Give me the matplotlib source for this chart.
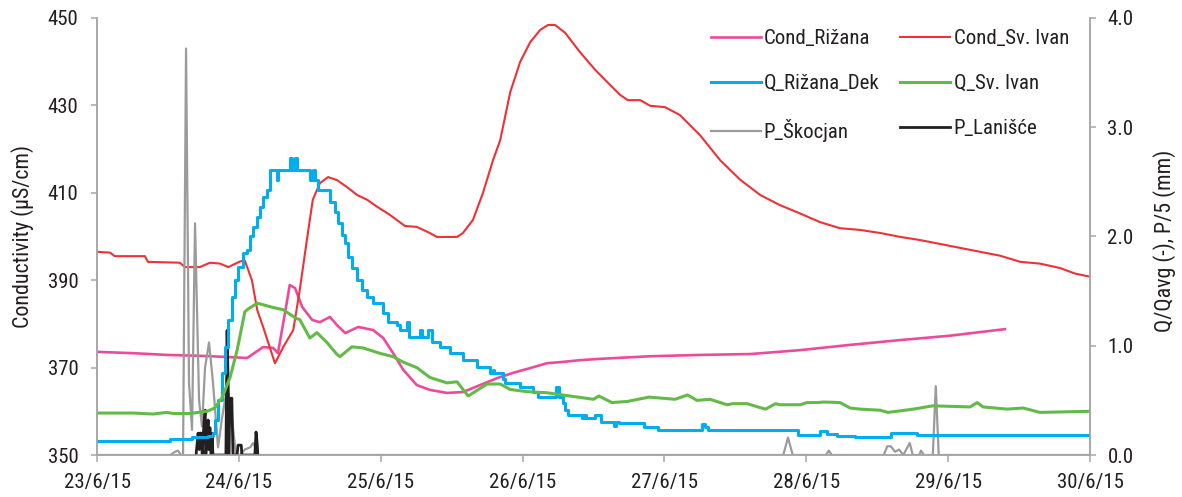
import matplotlib
matplotlib.use("Agg")
import matplotlib.pyplot as plt
from matplotlib import font_manager
from matplotlib.ticker import FixedLocator, FormatStrFormatter

# prefer a narrow sans face; otherwise shrink the regular one a little
_installed = {f.name for f in font_manager.fontManager.ttflist}
_narrow = [n for n in ("Liberation Sans Narrow", "Arial Narrow", "Roboto Condensed",
                       "Open Sans Condensed") if n in _installed]
if _narrow:
    plt.rcParams['font.family'] = [_narrow[0], 'Liberation Sans', 'DejaVu Sans']
    FS = 15
else:
    plt.rcParams['font.family'] = ['Liberation Sans', 'DejaVu Sans']
    FS = 13.2

# time axis: hours since 23/6/15 00:00
date_labels = ["23/6/15", "24/6/15", "25/6/15", "26/6/15", "27/6/15", "28/6/15", "29/6/15", "30/6/15"]

# Conductivity, Sv. Ivan spring (µS/cm)
t_cond_sv = [0, 2.2, 3.0, 8.1, 8.6, 14.0, 14.9, 17.4, 19.1, 20.8, 22.2, 24.2, 25.0, 26.2, 27.1, 28.1,
             30.1, 31.5, 33.2, 34.3, 35.5, 36.5, 37.7, 39.1, 40.6, 42.3, 44.0, 45.7, 47.4, 49.6, 52.1,
             54.1, 56.3, 57.5, 60.9, 61.9, 63.6, 65.3, 67.0, 68.2, 69.9, 71.6, 73.3, 75.0, 76.3, 77.5,
             79.2, 81.7, 84.3, 86.8, 88.5, 89.8, 91.9, 93.6, 96.1, 98.6, 102.0, 105.4, 108.8, 112.2,
             115.5, 118.9, 122.3, 125.7, 129.1, 132.5, 135.9, 139.2, 142.6, 146.0, 149.4, 152.8,
             156.2, 159.5, 162.9, 165.5, 168.0]
cond_sv = [396.5, 396.3, 395.5, 395.5, 394.2, 394.0, 393.0, 393.0, 394.0, 393.8, 393.0, 394.3, 394.5,
           390.0, 383.2, 379.3, 371.0, 374.7, 378.6, 387.8, 399.2, 408.4, 412.2, 413.6, 412.9, 411.3,
           409.5, 408.4, 406.8, 404.9, 402.4, 402.2, 400.8, 399.9, 399.9, 400.8, 403.8, 410.0, 417.5,
           422.0, 433.0, 440.0, 444.5, 447.3, 448.4, 448.4, 446.6, 442.2, 438.1, 434.7, 432.4, 431.2,
           431.2, 429.9, 429.6, 427.8, 423.2, 417.5, 413.0, 409.5, 407.2, 405.3, 403.3, 401.9, 401.5,
           400.8, 399.9, 399.2, 398.3, 397.4, 396.5, 395.6, 394.2, 393.8, 392.8, 391.5, 390.8]

# Conductivity, Rižana spring (µS/cm)
t_cond_riz = [0, 6.1, 11.8, 17.4, 22.5, 25.4, 28.1, 29.8, 30.6, 31.8, 32.6, 33.5, 34.7, 36.4, 37.7,
              39.4, 40.6, 42.0, 44.2, 46.7, 48.4, 50.1, 51.8, 54.1, 56.3, 59.2, 61.9, 64.8, 67.7, 70.4,
              73.3, 76.1, 78.8, 81.7, 85.1, 93.6, 102.0, 110.5, 119.0, 127.4, 135.9, 144.3, 153.6]
cond_riz = [373.6, 373.3, 372.9, 372.7, 372.4, 372.2, 374.7, 374.5, 373.3, 382.5, 388.9, 388.2, 383.9,
            380.9, 380.4, 381.6, 379.7, 377.9, 379.3, 378.6, 376.8, 373.3, 369.5, 366.0, 364.9, 364.2,
            364.4, 366.0, 367.6, 368.8, 369.9, 371.0, 371.3, 371.7, 372.0, 372.6, 372.9, 373.1, 374.0,
            375.2, 376.3, 377.3, 378.8]

# Normalised discharge, Rižana (Q/Qavg)
t_q_riz = [0, 9.0, 12.0, 12.35, 15.4, 16.1, 18.8, 19.6, 20.0, 20.5, 21.2, 21.7, 22.2, 22.8, 23.4, 23.9,
           24.7, 25.4, 25.9, 26.4, 27.1, 27.6, 28.1, 28.8, 29.3, 30.4, 30.6, 32.3, 32.6, 32.95, 33.5,
           33.8, 36.0, 36.5, 36.9, 37.4, 38.9, 39.4, 40.3, 40.8, 41.5, 42.0, 42.5, 43.1, 44.0, 44.8,
           45.7, 46.7, 48.4, 49.2, 50.8, 51.3, 52.5, 52.8, 54.6, 54.9, 56.0, 56.7, 58.0, 59.7, 61.9,
           64.3, 66.5, 67.0, 67.2, 68.7, 69.0, 71.6, 73.8, 74.6, 77.6, 78.1, 78.8, 79.2, 79.7, 80.2,
           82.1, 82.4, 82.7, 83.1, 84.3, 85.3, 87.5, 87.8, 88.3, 92.5, 94.9, 102.3, 102.8, 103.4,
           112.3, 118.6, 122.3, 123.5, 125.2, 128.3, 134.3, 135.5, 138.7, 168.0]
q_riz = [0.128, 0.128, 0.128, 0.146, 0.146, 0.165, 0.174, 0.20, 0.32, 0.50, 0.75, 0.99, 1.24, 1.45,
         1.60, 1.72, 1.85, 1.88, 2.00, 2.09, 2.18, 2.27, 2.36, 2.43, 2.61, 2.52, 2.61, 2.61, 2.72, 2.61,
         2.72, 2.61, 2.52, 2.61, 2.52, 2.43, 2.43, 2.32, 2.22, 2.12, 2.01, 1.94, 1.81, 1.71, 1.60, 1.51,
         1.45, 1.39, 1.30, 1.22, 1.19, 1.14, 1.22, 1.08, 1.14, 1.08, 1.14, 1.03, 0.99, 0.93, 0.87, 0.81,
         0.75, 0.78, 0.75, 0.70, 0.66, 0.62, 0.58, 0.53, 0.62, 0.53, 0.48, 0.41, 0.37, 0.37, 0.34, 0.37,
         0.34, 0.34, 0.37, 0.30, 0.27, 0.30, 0.29, 0.26, 0.23, 0.28, 0.26, 0.23, 0.23, 0.18, 0.22, 0.19,
         0.174, 0.165, 0.20, 0.20, 0.183, 0.165]

# Normalised discharge, Sv. Ivan (Q/Qavg)
t_q_sv = [0, 6.1, 9.5, 11.8, 12.9, 15.7, 18.6, 19.9, 21.2, 22.5, 23.7, 25.0, 25.4, 27.1, 29.8, 31.5,
          33.7, 34.3, 36.0, 37.2, 38.9, 40.6, 41.1, 43.1, 45.0, 47.9, 50.1, 51.8, 54.1, 56.3, 59.2,
          60.9, 62.8, 66.0, 68.2, 69.9, 72.7, 76.1, 80.0, 84.0, 84.9, 87.1, 89.7, 93.4, 97.8, 99.9,
          101.5, 103.7, 106.6, 107.6, 110.0, 111.8, 113.1, 114.8, 115.5, 119.0, 120.1, 122.0, 122.9,
          125.7, 127.4, 129.1, 132.5, 133.8, 135.3, 138.1, 141.4, 147.7, 148.9, 149.9, 154.0, 156.7,
          159.5, 168.0]
q_sv = [0.384, 0.384, 0.375, 0.39, 0.38, 0.38, 0.40, 0.43, 0.53, 0.71, 0.96, 1.31, 1.33, 1.39, 1.35,
        1.33, 1.25, 1.24, 1.07, 1.12, 1.03, 0.92, 0.90, 0.99, 0.98, 0.93, 0.90, 0.85, 0.80, 0.71, 0.66,
        0.67, 0.54, 0.65, 0.65, 0.60, 0.58, 0.57, 0.54, 0.51, 0.54, 0.48, 0.49, 0.53, 0.51, 0.55, 0.50,
        0.51, 0.46, 0.47, 0.47, 0.44, 0.42, 0.47, 0.46, 0.46, 0.48, 0.48, 0.485, 0.48, 0.43, 0.42, 0.41,
        0.39, 0.40, 0.42, 0.45, 0.44, 0.48, 0.44, 0.42, 0.43, 0.39, 0.40]

# Precipitation / 5, Škocjan (mm)
t_p_sko = [0, 12.4, 13.2, 13.7, 14.2, 14.55, 15.06, 15.56, 16.07, 16.58, 17.26, 17.76, 18.27, 18.95,
           19.62, 20.47, 21.15, 22.0, 22.5, 23.5, 24.2, 25.0, 25.9, 26.4, 26.9, 27.2, 116.1, 116.9,
           117.7, 123.3, 123.8, 124.3, 133.1, 133.7, 134.3, 135.0, 135.7, 136.4, 137.5, 138.0, 139.1,
           139.4, 139.9, 141.4, 141.9, 142.4, 168.0]
p_sko = [0, 0, 0.03, 0.04, 0, 0, 3.72, 0.66, 0.23, 2.12, 0.50, 0.26, 0.80, 1.03, 0.66, 0.07, 0.34,
         0.62, 0.50, 0, 0, 0.05, 0.07, 0.11, 0.06, 0, 0, 0.16, 0, 0, 0.04, 0, 0, 0.08, 0.08, 0.03, 0.05,
         0, 0.11, 0, 0, 0.04, 0, 0, 0.63, 0, 0]

# Precipitation / 5, Lanišće (mm)
t_p_lan = [16.75, 17.1, 17.3, 17.4, 17.6, 17.8, 17.9, 18.1, 18.3, 18.4, 18.6, 18.8, 18.9, 19.1, 19.3,
           19.5, 19.6, 21.8, 22.0, 22.2, 22.3, 22.5, 22.7, 22.8, 23.0, 23.7, 23.85, 24.4, 24.5, 26.7,
           26.9, 27.1, 27.2]
p_lan = [0, 0.20, 0.05, 0.20, 0.20, 0, 0.10, 0.30, 0.41, 0, 0.15, 0.32, 0.05, 0.25, 0, 0.20, 0, 0,
         1.14, 0.60, 0, 0.52, 0.45, 0.52, 0, 0, 0.09, 0.09, 0, 0, 0.21, 0.10, 0]

c_pink = "#ec4b9c"
c_red = "#ee3137"
c_blue = "#00aeef"
c_green = "#63bb47"
c_gray = "#9b9b9b"
c_black = "#231f20"
c_axis = "#a6a6a6"
c_text = "#231f20"

fig = plt.figure(figsize=(11.82, 4.97), dpi=100)
ax = fig.add_axes([0.0821, 0.0845, 0.8401, 0.8793])
ax2 = ax.twinx()

# conductivity on the left axis
l_pink, = ax.plot(t_cond_riz, cond_riz, color=c_pink, lw=1.9, label="Cond_Rižana")
l_red, = ax.plot(t_cond_sv, cond_sv, color=c_red, lw=1.5, label="Cond_Sv. Ivan")

# discharge and precipitation on the right axis
l_gray, = ax2.plot(t_p_sko, p_sko, color=c_gray, lw=1.6, label="P_Škocjan")
l_black, = ax2.plot(t_p_lan, p_lan, color=c_black, lw=2.0, label="P_Lanišće")
l_blue, = ax2.plot(t_q_riz, q_riz, color=c_blue, lw=2.2, drawstyle="steps-post", label="Q_Rižana_Dek")
l_green, = ax2.plot(t_q_sv, q_sv, color=c_green, lw=2.2, label="Q_Sv. Ivan")

ax.set_xlim(0, 168)
ax.set_ylim(350, 450)
ax2.set_ylim(0, 4.0)
ax.xaxis.set_major_locator(FixedLocator([24 * i for i in range(len(date_labels))]))
ax.set_xticklabels(date_labels)
ax.set_yticks([350, 370, 390, 410, 430, 450])
ax2.set_yticks([0, 1, 2, 3, 4])
ax2.yaxis.set_major_formatter(FormatStrFormatter("%.1f"))

for a in (ax, ax2):
    a.spines["top"].set_visible(False)
    for s in ("left", "right", "bottom"):
        a.spines[s].set_color(c_axis)
        a.spines[s].set_linewidth(1.1)
    a.patch.set_visible(False)

ax.tick_params(axis="y", direction="out", length=4.5, width=1.1, color=c_axis,
               labelsize=FS, labelcolor=c_text, pad=9)
ax.tick_params(axis="x", direction="out", length=5, width=1.1, color=c_axis,
               labelsize=FS, labelcolor=c_text, pad=8)
ax2.tick_params(axis="y", direction="out", length=4.5, width=1.1, color=c_axis,
                labelsize=FS, labelcolor=c_text, pad=8)

ax.set_ylabel("Conductivity (µS/cm)", fontsize=FS + 0.8, color=c_text)
ax.yaxis.set_label_coords(-0.063, 0.5)
ax2.set_ylabel("Q/Qavg (-), P/5 (mm)", fontsize=FS + 0.8, color=c_text)
ax2.yaxis.set_label_coords(1.063, 0.49)

handles = [l_pink, l_blue, l_gray, l_red, l_green, l_black]
leg = ax2.legend(handles=handles, labels=[h.get_label() for h in handles], ncol=2,
                 loc="upper left", bbox_to_anchor=(0.618, 0.975), frameon=False,
                 fontsize=FS, handlelength=2.4, handletextpad=0.15, labelspacing=1.25,
                 columnspacing=1.0, borderpad=0, borderaxespad=0)
for txt in leg.get_texts():
    txt.set_color(c_text)

fig.savefig("out.png", dpi=100)
